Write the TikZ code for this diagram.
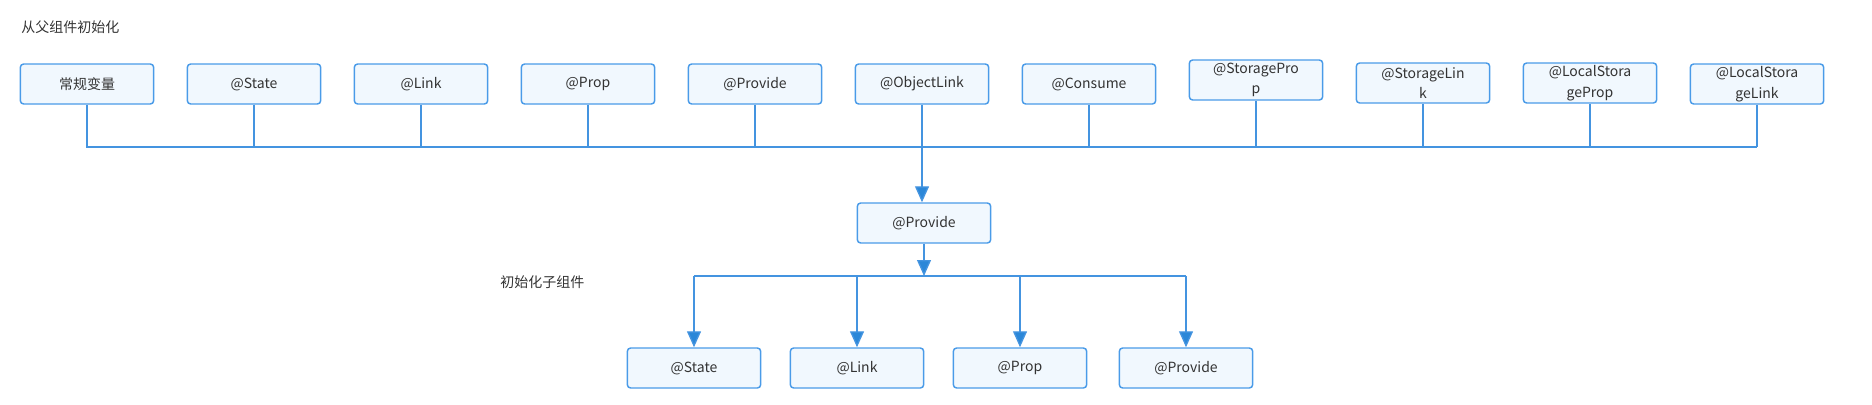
\documentclass[tikz,border=0pt]{standalone}
\usepackage{fontspec}
\setmainfont{Noto Sans}
\newfontfamily\cjk{Noto Sans CJK SC}
\usetikzlibrary{arrows.meta}

\definecolor{boxline}{HTML}{4A9BE8}
\definecolor{boxfill}{HTML}{F1F8FE}
\definecolor{wirecol}{HTML}{4494E0}
\definecolor{tipcol}{HTML}{2B87D8}
\definecolor{txt}{HTML}{333333}

\tikzset{
  deco/.style={draw=boxline, fill=boxfill, line width=1.1pt, rounded corners=2.5pt,
    minimum width=100pt, minimum height=30pt, inner sep=0pt, align=center,
    font=\cjk\fontsize{10.5}{15.5}\selectfont, text=txt},
  wire/.style={draw=wirecol, line width=1pt},
  arr/.style={wire, -{Triangle[width=10.5pt,length=12pt,fill=tipcol]}},
  lbl/.style={font=\cjk\fontsize{10.5}{13}\selectfont, text=txt, anchor=west, inner sep=0pt}
}

\begin{document}
\begin{tikzpicture}[x=0.75pt, y=-0.75pt]
    \useasboundingbox (0,0) rectangle (1872,404);

    % Labels
    \node[lbl] (title) at (21,27) {从父组件初始化};
    \node[lbl] (sublbl) at (500,282) {初始化子组件};

    % Draw the parent row
    \node[deco] (var)     at (87,84)   {常规变量};
    \node[deco] (state)   at (254,84)  {@State};
    \node[deco] (link)    at (421,84)  {@Link};
    \node[deco] (prop)    at (588,84)  {@Prop};
    \node[deco] (provide) at (755,84)  {@Provide};
    \node[deco] (objlink) at (922,84)  {@ObjectLink};
    \node[deco] (consume) at (1089,84) {@Consume};
    \node[deco] (stprop)  at (1256,80) {@StoragePro\\p};
    \node[deco] (stlink)  at (1423,83) {@StorageLin\\k};
    \node[deco] (lsprop)  at (1590,83) {@LocalStora\\geProp};
    \node[deco] (lslink)  at (1757,84) {@LocalStora\\geLink};

    % Draw the bus under the parent row
    \coordinate (busr) at (1757,147);
    \draw[wire] (var.south) |- (busr);
    \foreach \n in {state,link,prop,provide,consume,stprop,stlink,lsprop,lslink}
        \draw[wire] (\n.south) -- (\n.south |- busr);

    % Draw the middle box
    \node[deco] (mprovide) at (924,223) {@Provide};
    \draw[arr] (objlink.south) -- (objlink.south |- mprovide.north);

    % Draw the child row
    \node[deco] (cstate)   at (694,368)  {@State};
    \node[deco] (clink)    at (857,368)  {@Link};
    \node[deco] (cprop)    at (1020,368) {@Prop};
    \node[deco] (cprovide) at (1186,368) {@Provide};

    % Draw the bus over the child row
    \coordinate (cbus) at (924,276);
    \draw[arr] (mprovide.south) -- (cbus);
    \draw[wire] (cstate.north |- cbus) -- (cprovide.north |- cbus);
    \foreach \n in {cstate,clink,cprop,cprovide}
        \draw[arr] (\n.north |- cbus) -- (\n.north);
\end{tikzpicture}
\end{document}
